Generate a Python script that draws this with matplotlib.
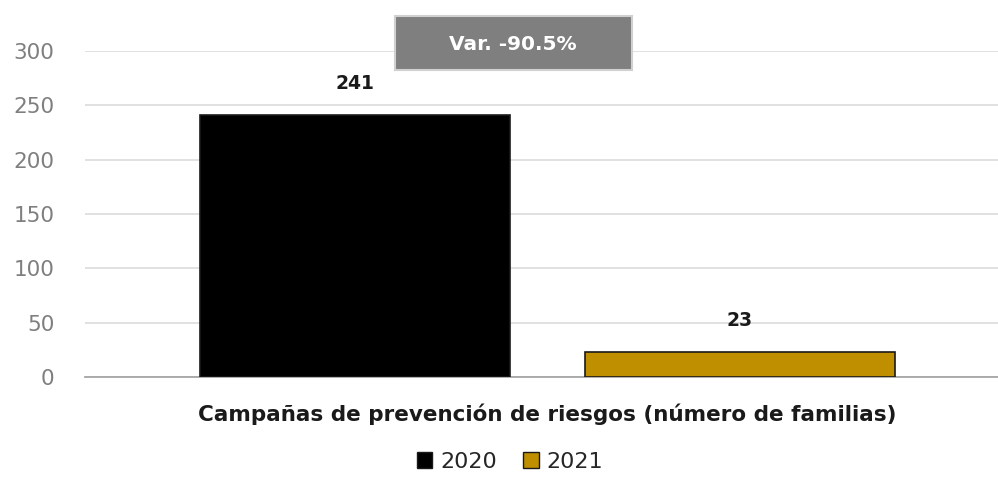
import matplotlib.pyplot as plt
from matplotlib.patches import Patch, Rectangle

plt.rcParams['font.family'] = ['DejaVu Sans']

series = ['2020', '2021']
values = [241, 23]
colors = ['#000000', '#BF8F00']
category = 'Campañas de prevención de riesgos (número de familias)'
yticks = [0, 50, 100, 150, 200, 250, 300]
var_label = 'Var. -90.5%'

W, H = 998, 497
fig = plt.figure(figsize=(W/100, H/100), dpi=100)
ax = fig.add_axes([85/W, 1 - 377/H, (W-85)/W, (377-51)/H])
ax.set_ylim(0, 300)
ax.set_xlim(-0.701, 1.670)
pos = [0, 1]
ax.bar(pos, values, width=0.805, color=colors, edgecolor='#1a1a1a', linewidth=1.2, zorder=3)
for p, v in zip(pos, values):
    ax.text(p, v + 20, str(v), ha='center', va='bottom', fontsize=13.5, fontweight='bold', color='#1a1a1a')

ax.set_yticks(yticks)
ax.tick_params(axis='y', length=0, pad=22, labelsize=15.5, labelcolor='#7f7f7f')
ax.tick_params(axis='x', length=0)
ax.set_xticks([])
for s in ['top', 'right', 'left']:
    ax.spines[s].set_visible(False)
ax.spines['bottom'].set_color('#a6a6a6')
ax.spines['bottom'].set_linewidth(1.3)
ax.grid(axis='y', color='#d9d9d9', linewidth=1.1, zorder=0)
ax.set_axisbelow(True)

fig.text(547/W, 1 - 414/H, category, ha='center', va='center', fontsize=15.5, fontweight='bold', color='#1a1a1a')

fig.patches.append(Rectangle((395/W, 1 - 70/H), (632-395)/W, (70-16)/H, transform=fig.transFigure,
                             facecolor='#7f7f7f', edgecolor='#d0d0d0', linewidth=1.5, zorder=5))
fig.text(513/W, 1 - 44/H, var_label, ha='center', va='center', fontsize=14.5, fontweight='bold', color='white', zorder=6)

handles = [Patch(facecolor=c, edgecolor='#1a1a1a', label=s) for c, s in zip(colors, series)]
fig.legend(handles=handles, loc='center', bbox_to_anchor=(510/W, 1 - 462/H), ncol=2, frameon=False,
           fontsize=16, handlelength=0.7, handleheight=0.7, handletextpad=0.35, columnspacing=1.2,
           labelcolor='#262626')

fig.savefig('out.png', dpi=100)
